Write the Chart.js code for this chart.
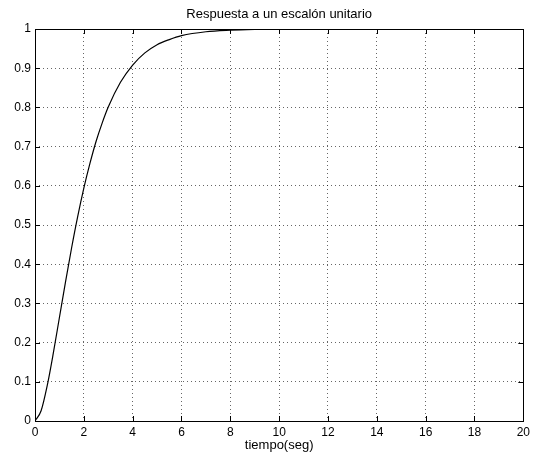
<!DOCTYPE html>
<html lang="es">
<head>
    <meta charset="UTF-8">
    <title>Respuesta a un escalón unitario</title>
    <style>
        body {
            margin: 0;
            padding: 0;
            background-color: #fff;
        }
        canvas {
            display: block;
        }
    </style>
    <script src="https://cdn.jsdelivr.net/npm/chart.js"></script>
</head>
<body>
<canvas id="stepChart" width="534" height="457"></canvas>
<script>
    // valores
    const tiempo = [0, 0.25, 0.5, 0.75, 1, 1.25, 1.5, 1.75, 2, 2.25, 2.5, 2.75, 3, 3.5, 4, 4.5, 5, 5.5, 6, 7, 8, 9, 10, 12, 14, 16, 18, 20];
    const respuesta = [0, 0.026, 0.090, 0.173, 0.264, 0.355, 0.442, 0.522, 0.594, 0.657, 0.713, 0.760, 0.801, 0.864, 0.908, 0.939, 0.960, 0.973, 0.983, 0.993, 0.997, 0.999, 1.0, 1.0, 1.0, 1.0, 1.0, 1.0];
    const xTicks = [0, 2, 4, 6, 8, 10, 12, 14, 16, 18, 20];
    const yTicks = [0, 0.1, 0.2, 0.3, 0.4, 0.5, 0.6, 0.7, 0.8, 0.9, 1];

    const fuente = 'Liberation Sans, Arial, Helvetica, sans-serif';

    // caja negra y marcas hacia dentro, estilo matlab
    const marcoPlugin = {
        id: 'marco',
        afterDraw(chart) {
            const ctx = chart.ctx;
            const a = chart.chartArea;
            const x = chart.scales.x;
            const y = chart.scales.y;
            ctx.save();
            ctx.strokeStyle = '#000';
            ctx.lineWidth = 1;
            ctx.beginPath();
            x.ticks.forEach(t => {
                const px = Math.round(x.getPixelForValue(t.value)) + 0.5;
                ctx.moveTo(px, a.bottom);
                ctx.lineTo(px, a.bottom - 5);
                ctx.moveTo(px, a.top);
                ctx.lineTo(px, a.top + 5);
            });
            y.ticks.forEach(t => {
                const py = Math.round(y.getPixelForValue(t.value)) + 0.5;
                ctx.moveTo(a.left, py);
                ctx.lineTo(a.left + 5, py);
                ctx.moveTo(a.right, py);
                ctx.lineTo(a.right - 5, py);
            });
            ctx.stroke();
            ctx.strokeRect(Math.round(a.left) + 0.5, Math.round(a.top) + 0.5,
                Math.round(a.right - a.left), Math.round(a.bottom - a.top));
            ctx.restore();
        }
    };

    const puntos = tiempo.map((t, i) => ({ x: t, y: respuesta[i] }));

    new Chart(document.getElementById('stepChart').getContext('2d'), {
        type: 'line',
        data: {
            datasets: [{
                data: puntos,
                borderColor: '#000',
                borderWidth: 1.2,
                pointRadius: 0,
                fill: false,
                cubicInterpolationMode: 'monotone'
            }]
        },
        options: {
            responsive: false,
            animation: false,
            layout: { padding: { left: 0, right: 9, top: 0, bottom: 0 } },
            plugins: {
                legend: { display: false },
                tooltip: { enabled: false },
                title: {
                    display: true,
                    text: 'Respuesta a un escalón unitario',
                    fullSize: false,
                    color: '#000',
                    font: { family: fuente, size: 13, weight: 'normal' },
                    padding: { top: 6.5, bottom: 6.9 }
                }
            },
            scales: {
                x: {
                    type: 'linear',
                    min: 0,
                    max: 20,
                    afterFit: s => { s.height = 36; },
                    afterBuildTicks: s => { s.ticks = xTicks.map(v => ({ value: v })); },
                    border: { display: false, dash: [1, 3] },
                    grid: {
                        color: 'rgba(0,0,0,0.6)',
                        drawTicks: false
                    },
                    ticks: {
                        color: '#000',
                        padding: 4,
                        maxRotation: 0,
                        font: { family: fuente, size: 12 }
                    },
                    title: {
                        display: true,
                        text: 'tiempo(seg)',
                        color: '#000',
                        font: { family: fuente, size: 13 },
                        padding: { top: 0, bottom: 4 }
                    }
                },
                y: {
                    type: 'linear',
                    min: 0,
                    max: 1,
                    afterFit: s => { s.width = 35; },
                    afterBuildTicks: s => { s.ticks = yTicks.map(v => ({ value: v })); },
                    border: { display: false, dash: [1, 3] },
                    grid: {
                        color: 'rgba(0,0,0,0.6)',
                        drawTicks: false
                    },
                    ticks: {
                        color: '#000',
                        padding: 4,
                        font: { family: fuente, size: 12 },
                        callback: v => String(Math.round(v * 10) / 10)
                    }
                }
            }
        },
        plugins: [marcoPlugin]
    });
</script>
</body>
</html>
